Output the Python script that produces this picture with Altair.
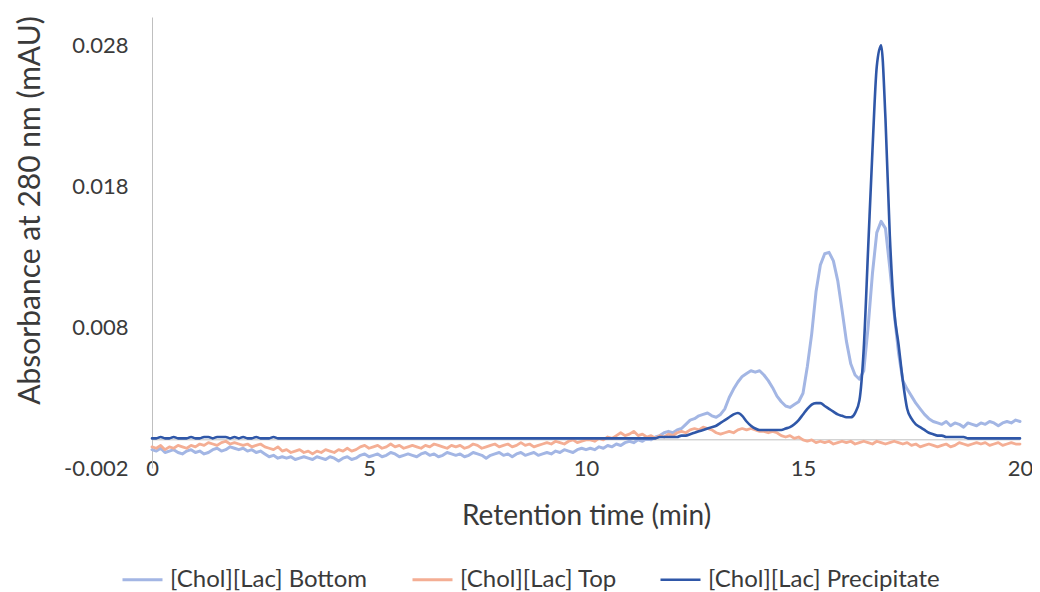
import altair as alt
import pandas as pd

# Retention time grid (min), one sample every 0.1 min from 0 to 20
time_min = [round(i * 0.1, 1) for i in range(201)]

# Absorbance values in units of 1e-4 mAU
bottom_e4 = [
    -7, -8, -6, -9, -8, -7, -9, -10, -8, -7, -9,
    -8, -10, -9, -7, -6, -8, -7, -5, -6, -7,
    -6, -8, -7, -9, -8, -10, -12, -11, -13, -12,
    -13, -12, -14, -13, -12, -13, -14, -12, -13, -14,
    -12, -13, -15, -13, -12, -14, -13, -11, -10, -12,
    -11, -10, -12, -11, -9, -10, -12, -11, -10, -11,
    -12, -10, -9, -11, -10, -12, -11, -9, -10, -11,
    -10, -12, -11, -9, -10, -11, -13, -11, -10, -9,
    -11, -10, -12, -10, -9, -11, -10, -9, -11, -10,
    -9, -10, -8, -9, -7, -8, -9, -7, -6, -7,
    -6, -7, -5, -6, -4, -5, -3, -4, -2, -1,
    -2, 0, -1, 1, 0, 2, 3, 5, 6, 5,
    7, 8, 11, 14, 15, 17, 18, 19, 17, 16,
    18, 22, 30, 36, 41, 45, 47, 49, 48, 49,
    46, 42, 37, 31, 27, 24, 23, 25, 27, 33,
    52, 75, 105, 124, 132, 133, 127, 113, 92, 70,
    54, 46, 43, 49, 80, 118, 147, 155, 150, 122,
    90, 62, 42, 36, 31, 26, 22, 18, 15, 13,
    12, 11, 13, 10, 12, 11, 9, 12, 11, 10,
    12, 11, 13, 12, 10, 12, 13, 12, 14, 13,
]

top_e4 = [
    -5, -6, -4, -7, -5, -6, -4, -5, -6, -4, -5,
    -3, -4, -2, -3, -4, -2, -1, -3, -2, -3,
    -4, -3, -5, -4, -3, -5, -6, -7, -5, -8,
    -7, -9, -8, -7, -9, -8, -10, -8, -9, -7,
    -8, -9, -7, -8, -6, -8, -7, -5, -4, -6,
    -5, -4, -6, -5, -3, -5, -4, -6, -5, -4,
    -5, -6, -4, -5, -3, -4, -5, -6, -4, -5,
    -4, -6, -5, -3, -4, -6, -5, -4, -3, -5,
    -4, -3, -5, -4, -2, -4, -3, -5, -4, -3,
    -2, -3, -1, -2, -3, -1, 0, -2, -1, 0,
    0, -1, 1, 0, 2, 1, 3, 5, 3, 4,
    6, 3, 4, 2, 3, 1, 3, 2, 4, 3,
    5, 6, 5, 7, 8, 7, 9, 8, 7, 5,
    4, 5, 6, 5, 7, 8, 7, 8, 7, 6,
    6, 5, 6, 5, 3, 2, 3, 1, 2, 0,
    -1, 0, -2, -1, -2, -1, -3, -2, -1, -2,
    -1, -3, -2, -1, -2, -3, -1, -2, -3, -2,
    -1, -2, -3, -2, -4, -3, -5, -4, -3, -4,
    -5, -4, -3, -5, -4, -2, -3, -4, -3, -2,
    -3, -2, -4, -3, -2, -4, -3, -2, -3, -3,
]

precip_e4 = [
    1, 1, 2, 1, 1, 2, 1, 1, 1, 2, 1,
    1, 2, 2, 1, 2, 2, 2, 1, 2, 1,
    2, 1, 1, 2, 1, 1, 1, 2, 1, 1,
    1, 1, 1, 1, 1, 1, 1, 1, 1, 1,
    1, 1, 1, 1, 1, 1, 1, 1, 1, 1,
    1, 1, 1, 1, 1, 1, 1, 1, 1, 1,
    1, 1, 1, 1, 1, 1, 1, 1, 1, 1,
    1, 1, 1, 1, 1, 1, 1, 1, 1, 1,
    1, 1, 1, 1, 1, 1, 1, 1, 1, 1,
    1, 1, 1, 1, 1, 1, 1, 1, 1, 1,
    1, 1, 1, 1, 1, 1, 1, 1, 1, 1,
    1, 1, 1, 1, 1, 1, 2, 2, 2, 2,
    2, 3, 3, 4, 5, 6, 7, 8, 9, 10,
    12, 14, 16, 18, 19, 17, 13, 10, 8, 7,
    7, 7, 7, 7, 7, 8, 9, 11, 14, 18,
    22, 25, 26, 26, 24, 22, 20, 18, 17, 16,
    16, 19, 28, 65, 135, 205, 265, 280, 228, 145,
    92, 68, 42, 22, 15, 11, 9, 7, 5, 4,
    3, 3, 2, 2, 2, 2, 2, 1, 1, 1,
    1, 1, 1, 1, 1, 1, 1, 1, 1, 1,
]

series_names = ["[Chol][Lac] Bottom", "[Chol][Lac] Top", "[Chol][Lac] Precipitate"]
series_colors = ["#A3B6E4", "#F4AE94", "#2F57A8"]
series_widths = [3.0, 2.6, 3.4]
x_ticks = [0, 5, 10, 15, 20]
y_ticks = [-0.002, 0.008, 0.018, 0.028]

rows = []
for name, vals in zip(series_names, [bottom_e4, top_e4, precip_e4]):
    for t, v in zip(time_min, vals):
        rows.append({"t": t, "v": v / 10000.0, "series": name})
df = pd.DataFrame(rows)

FONT = "Lato"
TXT = "#3a3a3a"

x_enc = alt.X(
    "t:Q",
    scale=alt.Scale(domain=[0, 20], nice=False, zero=False),
    axis=alt.Axis(
        values=x_ticks, title="Retention time (min)", domain=False, ticks=False,
        grid=False, labelFlush=False, labelBaseline="middle", labelPadding=0,
        labelFontSize=22, titleFontSize=28, titleY=48, titleBaseline="middle",
    ),
)
y_enc = alt.Y(
    "v:Q",
    scale=alt.Scale(domain=[-0.002, 0.030], nice=False, zero=False),
    axis=alt.Axis(
        values=y_ticks,
        labelExpr="datum.value < 0 ? '-' + format(-datum.value, '.3f') : format(datum.value, '.3f')",
        title="Absorbance at 280 nm (mAU)", grid=False, ticks=False,
        domainColor="#BFBFBF", domainWidth=1, labelPadding=24, labelFlush=False,
        labelFontSize=22, titleFontSize=30, titleAngle=270, titleX=-122, titleY=193,
        titleBaseline="middle", titleAlign="center",
    ),
)
color_enc = alt.Color(
    "series:N",
    scale=alt.Scale(domain=series_names, range=series_colors),
    legend=alt.Legend(
        title=None, orient="none", direction="horizontal", legendX=-31, legendY=541,
        symbolType="stroke", symbolSize=1600, symbolStrokeWidth=3,
        labelFontSize=24, labelFont=FONT, labelColor=TXT, labelOffset=6,
        labelLimit=500, columnPadding=38,
    ),
)
sw_enc = alt.StrokeWidth(
    "series:N", scale=alt.Scale(domain=series_names, range=series_widths), legend=None
)

rule = alt.Chart(pd.DataFrame({"v": [0.0]})).mark_rule(
    color="#BFBFBF", strokeWidth=1
).encode(y=y_enc)

layers = [rule]
for name in series_names:
    interp = "monotone" if name.endswith("Precipitate") else "linear"
    layers.append(
        alt.Chart(df)
        .transform_filter(alt.datum.series == name)
        .mark_line(interpolate=interp, strokeJoin="round", strokeCap="round")
        .encode(x=x_enc, y=y_enc, color=color_enc, strokeWidth=sw_enc)
    )

chart = (
    alt.layer(*layers)
    .properties(
        width=868, height=451,
        autosize=alt.AutoSizeParams(type="none"),
        padding={"left": 144, "top": 9, "right": 12, "bottom": 124},
    )
    .configure_view(stroke=None)
    .configure_axis(
        labelFont=FONT, titleFont=FONT, labelColor=TXT, titleColor=TXT,
        titleFontWeight="normal",
    )
)

chart.save("out.html", embed_options={"renderer": "svg", "actions": False})
